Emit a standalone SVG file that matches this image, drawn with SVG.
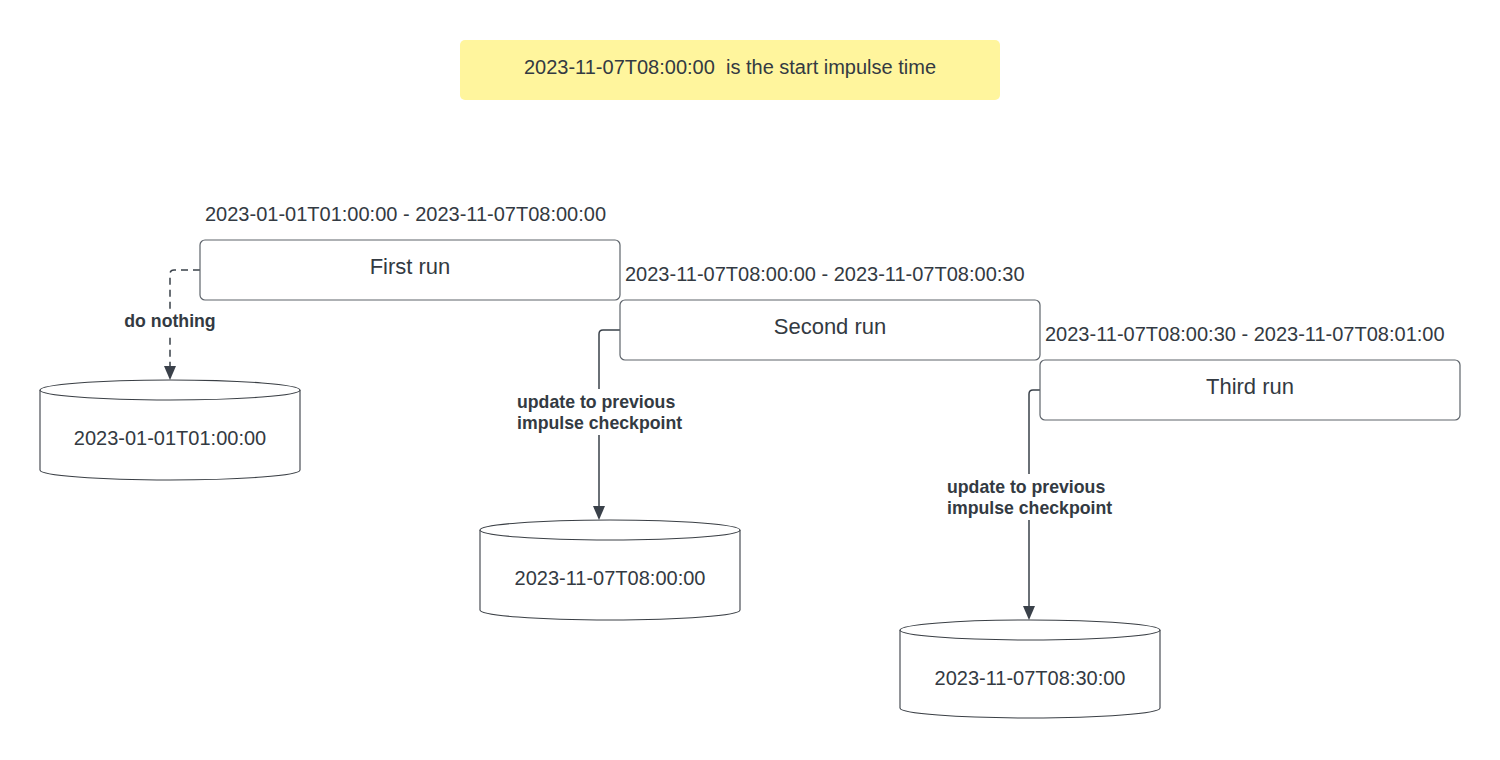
<svg xmlns="http://www.w3.org/2000/svg" width="1500" height="760" viewBox="0 0 1500 760">
<style>
.box{fill:#fff;stroke:#5e646b;stroke-width:1.2}
.cyl{fill:#fff;stroke:#3a3f45;stroke-width:1.1}
.t{font-family:"Liberation Sans",Arial,sans-serif;fill:#333a42}
.big{font-size:22px;text-anchor:middle}
.mid{font-size:20px}
.lbl{font-size:17.7px;font-weight:bold}
.conn{fill:none;stroke:#3a414a;stroke-width:1.5}
.dash{stroke-dasharray:7 5}
.bg{fill:#fff}
</style>
<rect width="1500" height="760" fill="#fff"/>

<g id="note">
<rect x="460" y="40" width="540" height="60" rx="5" fill="#fff59d"/>
<text class="t mid" x="730" y="74" text-anchor="middle" xml:space="preserve">2023-11-07T08:00:00  is the start impulse time</text>
</g>

<g id="connectors">
<path class="conn dash" d="M200,270 H174 Q170,270 170,274 V366"/>
<path class="conn" d="M620,330 H603 Q599,330 599,334 V506"/>
<path class="conn" d="M1040,390 H1033 Q1029,390 1029,394 V606"/>
<path d="M164,366 L176,366 L170,380 Z" fill="#3a414a"/>
<path d="M593,506 L605,506 L599,520 Z" fill="#3a414a"/>
<path d="M1023,606 L1035,606 L1029,620 Z" fill="#3a414a"/>
<rect class="bg" x="122" y="309" width="96" height="24"/>
<text class="t lbl" x="170" y="327" text-anchor="middle">do nothing</text>
<rect class="bg" x="514" y="389" width="172" height="46"/>
<text class="t lbl" x="517" y="408">update to previous</text>
<text class="t lbl" x="517" y="429">impulse checkpoint</text>
<rect class="bg" x="944" y="474" width="172" height="46"/>
<text class="t lbl" x="947" y="493">update to previous</text>
<text class="t lbl" x="947" y="514">impulse checkpoint</text>
</g>

<g id="first-run">
<text class="t mid" x="205" y="221">2023-01-01T01:00:00 - 2023-11-07T08:00:00</text>
<rect class="box" x="200" y="240" width="420" height="60" rx="5"/>
<text class="t big" x="410" y="274">First run</text>
</g>

<g id="second-run">
<text class="t mid" x="625" y="281">2023-11-07T08:00:00 - 2023-11-07T08:00:30</text>
<rect class="box" x="620" y="300" width="420" height="60" rx="5"/>
<text class="t big" x="830" y="334">Second run</text>
</g>

<g id="third-run">
<text class="t mid" x="1045" y="341">2023-11-07T08:00:30 - 2023-11-07T08:01:00</text>
<rect class="box" x="1040" y="360" width="420" height="60" rx="5"/>
<text class="t big" x="1250" y="394">Third run</text>
</g>

<g id="db1">
<path class="cyl" d="M40,390 A130,10 0 0 1 300,390 V470 A130,10 0 0 1 40,470 Z"/>
<path class="cyl" d="M40,390 A130,10 0 0 0 300,390" fill="none"/>
<text class="t mid" x="170" y="445" text-anchor="middle">2023-01-01T01:00:00</text>
</g>

<g id="db2">
<path class="cyl" d="M480,530 A130,10 0 0 1 740,530 V610 A130,10 0 0 1 480,610 Z"/>
<path class="cyl" d="M480,530 A130,10 0 0 0 740,530" fill="none"/>
<text class="t mid" x="610" y="585" text-anchor="middle">2023-11-07T08:00:00</text>
</g>

<g id="db3">
<path class="cyl" d="M900,630 A130,10 0 0 1 1160,630 V708 A130,10 0 0 1 900,708 Z"/>
<path class="cyl" d="M900,630 A130,10 0 0 0 1160,630" fill="none"/>
<text class="t mid" x="1030" y="685" text-anchor="middle">2023-11-07T08:30:00</text>
</g>
</svg>
